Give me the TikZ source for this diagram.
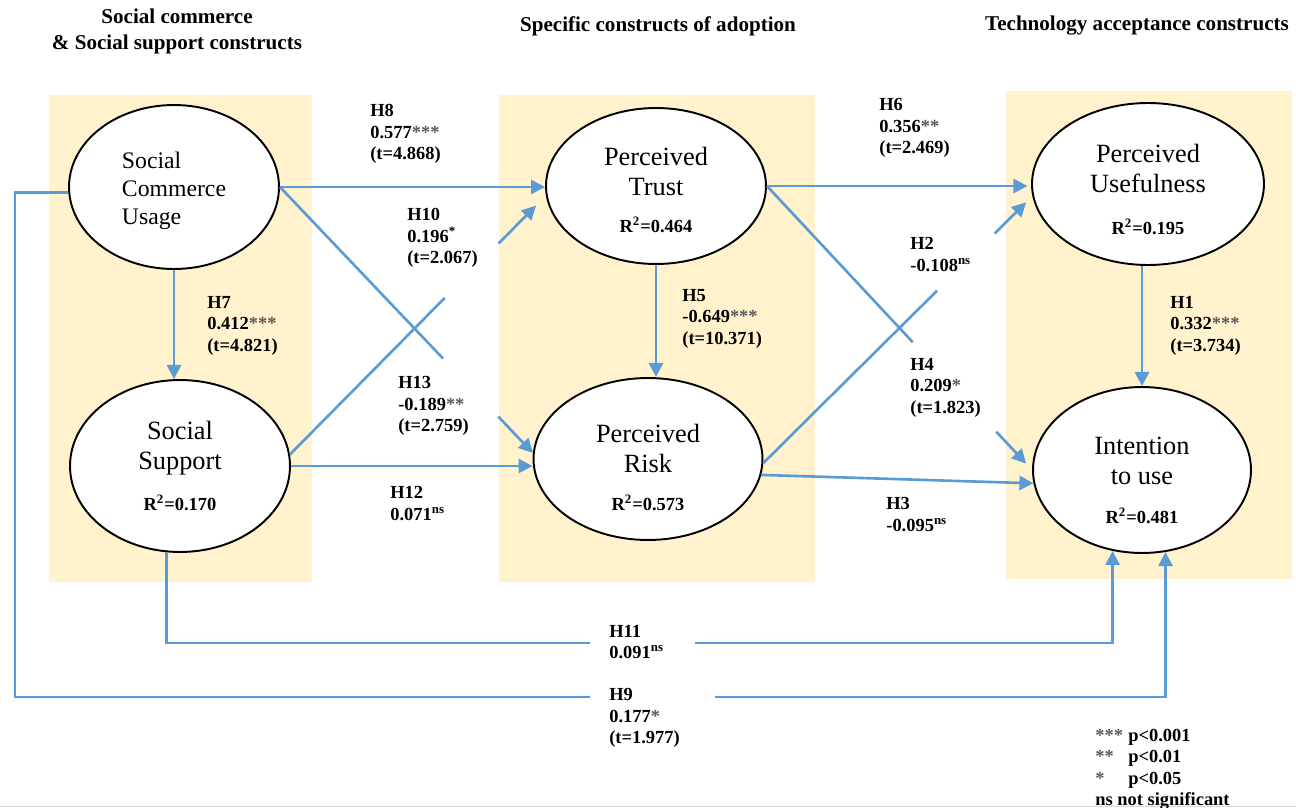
\documentclass[tikz,border=0pt]{standalone}
\usepackage{fontspec}
\setmainfont{Liberation Serif}
\usetikzlibrary{arrows.meta,shapes.geometric,calc}

\definecolor{pathblue}{RGB}{91,155,213}
\definecolor{panelfill}{RGB}{255,242,204}
\newcommand{\stars}[1]{{\color{black!65}#1}}
\newcommand{\ns}{\textsuperscript{ns}}
\newcommand{\rsq}[1]{{\bfseries\fontsize{10.5}{12}\selectfont R\textsuperscript{2}=#1}}
\newcommand{\toppad}[1]{\rule{0pt}{#1}}

\begin{document}
\begin{tikzpicture}[x=0.02cm, y=-0.02cm,
  construct/.style={ellipse, draw=black, line width=1.1pt, fill=white,
    inner sep=0pt, align=center, font=\fontsize{15}{17}\selectfont},
  link/.style={draw=pathblue, line width=1.5pt},
  arr/.style={link, -{Triangle[length=8pt, width=8pt]}},
  coef/.style={font=\bfseries\fontsize{10.5}{12.2}\selectfont,
    align=left, anchor=north west, inner sep=0pt},
  heading/.style={font=\bfseries\fontsize{12}{14.8}\selectfont,
    align=center, inner sep=0pt}]

  \useasboundingbox (0,0) rectangle (1296,808);
  \draw[black!15, line width=0.4pt] (0,806) -- (1296,806);

  % Column panels
  \foreach \xa/\ya/\xb/\yb in {49/95/312/582, 499/95/815/582, 1006/91/1292/579}
    \fill[panelfill] (\xa,\ya) rectangle (\xb,\yb);

  \node[heading] (headA) at (177,31) {Social commerce\\\& Social support constructs};
  \node[heading] (headB) at (658,26) {Specific constructs of adoption};
  \node[heading] (headC) at (1137,26) {Technology acceptance constructs};

  % Constructs
  \node[construct, minimum width=4.2cm, minimum height=3.28cm, align=left,
    font=\fontsize{13.5}{16.2}\selectfont] (SCU) at (174,187)
    {\toppad{13.7pt}Social\\Commerce\\Usage};
  \node[construct, minimum width=4.4cm, minimum height=3.44cm] (SS) at (180,466)
    {Social\\Support\\[6pt]\rsq{0.170}};
  \node[construct, minimum width=4.4cm, minimum height=3.12cm] (PT) at (656,186)
    {\toppad{15pt}Perceived\\Trust\\[4pt]\rsq{0.464}};
  \node[construct, minimum width=4.58cm, minimum height=3.24cm] (PR) at (648,459)
    {\toppad{20pt}Perceived\\Risk\\[5pt]\rsq{0.573}};
  \node[construct, minimum width=4.64cm, minimum height=3.24cm] (PU) at (1148,184)
    {\toppad{17pt}Perceived\\Usefulness\\[7pt]\rsq{0.195}};
  \node[construct, minimum width=4.36cm, minimum height=3.32cm] (IU) at (1142,470)
    {\toppad{22pt}Intention\\to use\\[5pt]\rsq{0.481}};

  % Straight paths
  \draw[arr] (SCU.east) -- (SCU.east -| PT.west);
  \draw[arr] (SCU.south) -- (SCU.south |- SS.north);
  \draw[arr] (SS.east) -- (SS.east -| PR.west);
  \draw[arr] (PT.south) -- (PT.south |- PR.north);
  \draw[arr, shorten >=2pt] (PT.east) -- (PT.east -| PU.west);
  \draw[arr] (PR.-8) -- (IU.187);
  \draw[arr] (IU.north |- PU.south) -- (IU.north);

  % Crossing paths, broken where the coefficients sit
  \draw[link] (SS.6) -- ($(SS.6)!0.605!(PT.185)$);
  \draw[arr, shorten >=8pt] ($(SS.6)!0.815!(PT.185)$) -- (PT.185);
  \draw[link] (SCU.east) -- ($(SCU.east)!0.645!(PR.177)$);
  \draw[arr] ($(SCU.east)!0.863!(PR.177)$) -- (PR.177);
  \draw[link] (PR.-2) -- ($(PR.-2)!0.646!(PU.186)$);
  \draw[arr, shorten >=5pt] ($(PR.-2)!0.86!(PU.186)$) -- (PU.186);
  \draw[link] (PT.east) -- ($(PT.east)!0.55!(IU.west)$);
  \draw[arr, shorten >=5pt] ($(PT.east)!0.865!(IU.west)$) -- (IU.west);

  % Direct paths to intention, routed below the panels
  \coordinate (h11a) at (590,643);
  \coordinate (h11b) at (695,643);
  \coordinate (h9corner) at (15,697);
  \coordinate (h9a) at (590,697);
  \coordinate (h9b) at (715,697);
  \draw[link] (SS.261) |- (h11a);
  \draw[arr] (h11b) -| (IU.250);
  \draw[link] (SCU.183) -| (h9corner) -- (h9a);
  \draw[arr] (h9b) -| (IU.286);

  % Path coefficients
  \node[coef] (cH8) at (370,104) {H8\\0.577\stars{***}\\(t=4.868)};
  \node[coef] (cH10) at (407,208) {H10\\0.196\textsuperscript{*}\\(t=2.067)};
  \node[coef] (cH7) at (207,296) {H7\\0.412\stars{***}\\(t=4.821)};
  \node[coef] (cH13) at (398,376) {H13\\-0.189\stars{**}\\(t=2.759)};
  \node[coef] (cH12) at (390,486) {H12\\0.071\ns};
  \node[coef] (cH5) at (682,289) {H5\\-0.649\stars{***}\\(t=10.371)};
  \node[coef] (cH6) at (879,98) {H6\\0.356\stars{**}\\(t=2.469)};
  \node[coef] (cH2) at (910,237) {H2\\-0.108\ns};
  \node[coef] (cH4) at (910,358) {H4\\0.209\stars{*}\\(t=1.823)};
  \node[coef] (cH3) at (886,497) {H3\\-0.095\ns};
  \node[coef] (cH1) at (1170,296) {H1\\0.332\stars{***}\\(t=3.734)};
  \node[coef] (cH11) at (609,625) {H11\\0.091\ns};
  \node[coef] (cH9) at (609,688) {H9\\0.177\stars{*}\\(t=1.977)};

  % Significance key
  \node[coef] (key) at (1095,726) {%
    \begin{tabular}{@{}l@{\hspace{3pt}}l@{}}
      \stars{***} & p<0.001\\
      \stars{**} & p<0.01\\
      \stars{*} & p<0.05\\
      \multicolumn{2}{@{}l@{}}{ns not significant}
    \end{tabular}};

\end{tikzpicture}
\end{document}
